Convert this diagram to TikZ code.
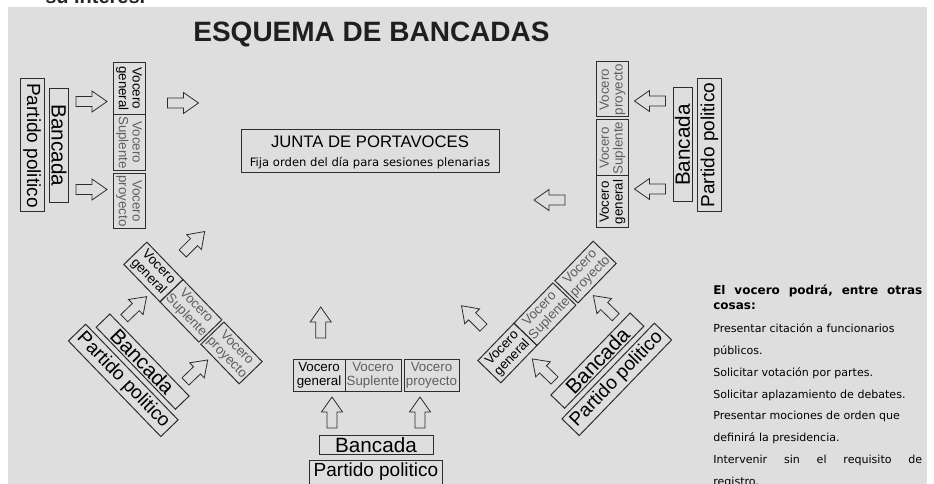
\documentclass[tikz,border=0pt]{standalone}
\usepackage{fontspec}
\setmainfont{Liberation Sans}
\newfontfamily\tahoma{DejaVu Sans}

\definecolor{panelgray}{RGB}{222,222,222}
\definecolor{boxline}{RGB}{45,45,45}
\definecolor{softtext}{RGB}{95,95,95}

\tikzset{
  frame/.style={draw=boxline,line width=0.75pt,inner sep=0pt,align=center},
  cell/.style={frame,rotate=-90,minimum width=39pt,minimum height=24pt,
    font=\fontsize{10}{10.4}\selectfont},
  softcell/.style={text=softtext},
  bancadabox/.style={frame,rotate=-90,minimum width=85.5pt,minimum height=14.25pt,
    font=\fontsize{15.5}{16}\selectfont},
  partidobox/.style={frame,rotate=-90,minimum width=99.75pt,minimum height=18pt,
    font=\fontsize{14.25}{15}\selectfont},
  arrowline/.style={draw=boxline,line width=0.6pt},
  note/.style={inner sep=0pt,anchor=base west,font=\tahoma\fontsize{8.3}{9}\selectfont},
  blockarrow/.pic={
    \draw[arrowline] (-15.5,-5) -- (0.5,-5) -- (0.5,-10.5) -- (15.5,0)
      -- (0.5,10.5) -- (0.5,5) -- (-15.5,5) -- cycle;
  }
}

\begin{document}
\begin{tikzpicture}[x=0.75pt,y=-0.75pt]
  \useasboundingbox (0,0) rectangle (934,484);
  \clip (0,0) rectangle (934,484);

  % cut line of the text above
  \node[inner sep=0pt,anchor=base west,font=\bfseries\fontsize{15}{16}\selectfont,text=black!85] (above) at (45,3.5) {su interés.};

  % gray sheet
  \fill[panelgray] (8,7) rectangle (927,490);

  \node[inner sep=0pt,anchor=base,font=\bfseries\fontsize{21}{24}\selectfont,text=black!88] (title) at (371.5,42) {ESQUEMA DE BANCADAS};

  % junta
  \node[frame,minimum width=193.5pt,minimum height=32.25pt] (junta) at (370,151.5) {};
  \node[inner sep=0pt,anchor=base,font=\fontsize{12.5}{14}\selectfont] (juntatitle) at (370,148) {JUNTA DE PORTAVOCES};
  \node[inner sep=0pt,anchor=base,font=\tahoma\fontsize{8.7}{10}\selectfont] (juntanote) at (370,167) {Fija orden del día para sesiones plenarias};

  % the five bancadas round the junta
  \foreach \gx/\gy/\ga [count=\n] in {129/145.5/0, 193/313/44, 376/375/90, 547/312/136, 612.5/145/180}{
    \begin{scope}[shift={(\gx,\gy)},rotate=\ga,transform shape]
      \node[cell] (gen\n) at (0,-57) {Vocero\\general};
      \node[cell,softcell,minimum width=42pt] (sup\n) at (0,-3) {Vocero\\Suplente};
      \node[cell,softcell,minimum width=41.25pt] (pro\n) at (0,55.5) {Vocero\\proyecto};
      \pic at (-37.5,-44) {blockarrow};
      \pic at (-37.5,44) {blockarrow};
      \node[bancadabox] (banc\n) at (-70,0) {Bancada};
      \node[partidobox] (part\n) at (-97,0) {Partido politico};
    \end{scope}
  }

  % arrows to the junta
  \pic[rotate=0] at (183,103) {blockarrow};
  \pic[rotate=45] at (193.7,242.5) {blockarrow};
  \pic[rotate=90] at (320.7,322.5) {blockarrow};
  \pic[rotate=135] at (472.5,316.7) {blockarrow};
  \pic[rotate=180] at (549.5,200) {blockarrow};

  % notes on the right
  \node[note,font=\tahoma\bfseries\fontsize{9}{10}\selectfont] (head1) at (713,294.3)
    {\hbox to 156.75pt{El\hfill vocero\hfill podrá,\hfill entre\hfill otras}};
  \node[note,font=\tahoma\bfseries\fontsize{9}{10}\selectfont] (head2) at (713,309.3) {cosas:};
  \foreach \txt [count=\k] in {Presentar citación a funcionarios, públicos.,
      Solicitar votación por partes., Solicitar aplazamiento de debates.,
      Presentar mociones de orden que, definirá la presidencia.,
      {\hbox to 156.75pt{Intervenir\hfill sin\hfill el\hfill requisito\hfill de}}, registro.}
    \node[note] (line\k) at (713,310.9+21.8*\k) {\txt};
\end{tikzpicture}
\end{document}
